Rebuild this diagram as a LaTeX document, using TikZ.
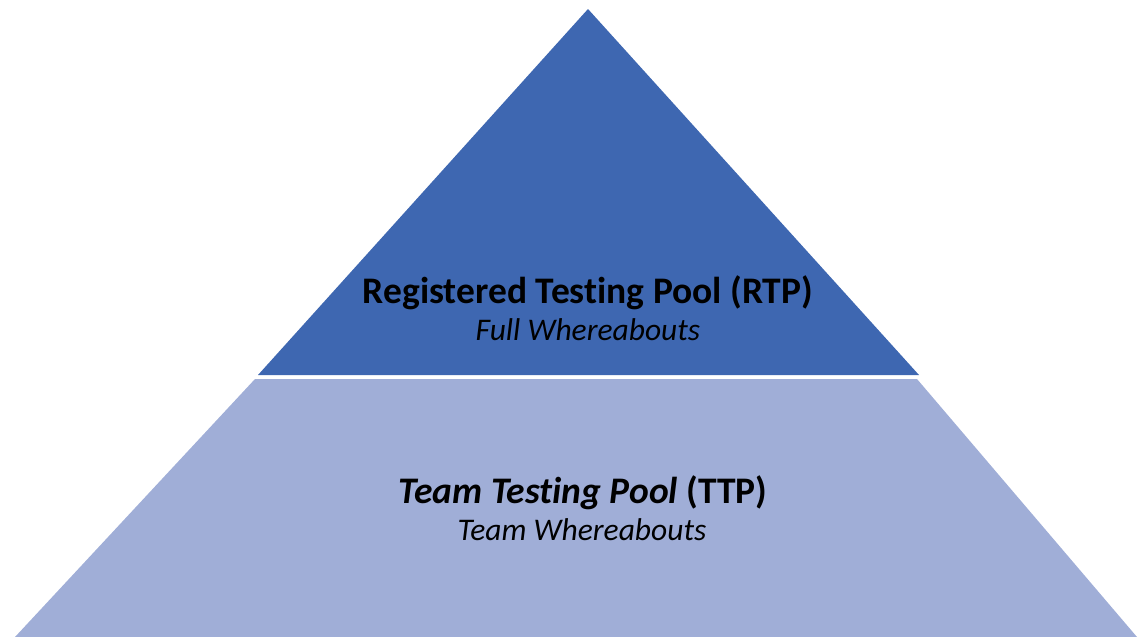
\documentclass[tikz,border=0pt]{standalone}
\usepackage{fontspec}
\setmainfont[Ligatures=CommonOff]{Carlito}
\definecolor{rtpblue}{RGB}{62,103,177}
\definecolor{ttpblue}{RGB}{160,174,215}
\begin{document}
\begin{tikzpicture}[x=1pt,y=-1pt]
        \useasboundingbox (0,0) rectangle (1138,637);
        % upper level
        \fill[rtpblue] (588,9) -- (919,375) -- (258,375) -- cycle;
        % lower level
        \fill[ttpblue] (255,379) -- (917,379) -- (1137,637) -- (15,637) -- cycle;
        \node[font=\fontsize{37.5}{44}\selectfont\bfseries] (rtp) at (588,293) {Registered Testing Pool (RTP)};
        \node[font=\fontsize{31.5}{38}\selectfont\itshape] (rtpsub) at (588,330) {Full Whereabouts};
        \node[font=\fontsize{37.5}{44}\selectfont\bfseries] (ttp) at (583,493) {\textit{Team Testing Pool} (TTP)};
        \node[font=\fontsize{31.5}{38}\selectfont\itshape] (ttpsub) at (582,530) {Team Whereabouts};
    \end{tikzpicture}
\end{document}
